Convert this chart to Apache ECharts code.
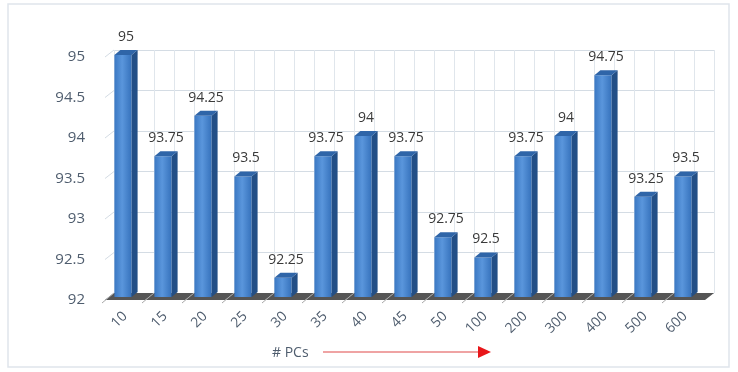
<!DOCTYPE html>
<html>
<head>
<meta charset="utf-8">
<script src="https://cdn.jsdelivr.net/npm/echarts@6/dist/echarts.min.js"></script>
<style>
  html, body { margin: 0; padding: 0; background: #fff; }
  #chart { width: 738px; height: 372px; }
</style>
</head>
<body>
<div id="chart"></div>
<script>
// ── Data ────────────────────────────────────────────────────────────────
const categories = ['10', '15', '20', '25', '30', '35', '40', '45', '50', '100', '200', '300', '400', '500', '600']
const accuracy = [95, 93.75, 94.25, 93.5, 92.25, 93.75, 94, 93.75, 92.75, 92.5, 93.75, 94, 94.75, 93.25, 93.5]
const yTicks = [92, 92.5, 93, 93.5, 94, 94.5, 95]
const axisTitle = '# PCs'

// ── 3D look ─────────────────────────────────────────────────────────────
const DEPTH_X = 6
const DEPTH_Y = -5
const WALL_X = 9
const WALL_Y = -7
const Y_MIN = 92

const chart = echarts.init(document.getElementById('chart'))

function renderBar(params, api) {
  const idx = api.value(0)
  const val = api.value(1)
  const top = api.coord([idx, val])
  const base = api.coord([idx, Y_MIN])
  const band = api.size([1, 0])[0]
  const w = band * 0.43
  const x0 = top[0] - (w + DEPTH_X) / 2 + 1
  const yTop = top[1] - 2
  const yBot = base[1] - 3
  const children = []

  // floor segment for this band
  const fl = base[0] - band / 2
  const fr = base[0] + band / 2
  children.push({
    type: 'polygon',
    shape: { points: [[fl, base[1]], [fr, base[1]], [fr + WALL_X, base[1] + WALL_Y], [fl + WALL_X, base[1] + WALL_Y]] },
    style: { fill: '#555' }
  })
  children.push({
    type: 'line',
    shape: { x1: fl - 3, y1: base[1] + 3, x2: fl + WALL_X, y2: base[1] + WALL_Y },
    style: { stroke: '#a8a8a8', lineWidth: 1 }
  })
  // front face
  children.push({
    type: 'rect',
    shape: { x: x0, y: yTop, width: w, height: yBot - yTop },
    style: {
      fill: new echarts.graphic.LinearGradient(0, 0, 1, 0, [
        { offset: 0, color: '#3b78c3' },
        { offset: 0.45, color: '#5a96dc' },
        { offset: 1, color: '#3672bc' }
      ])
    }
  })
  // side face
  children.push({
    type: 'polygon',
    shape: { points: [[x0 + w, yTop], [x0 + w + DEPTH_X, yTop + DEPTH_Y], [x0 + w + DEPTH_X, yBot + DEPTH_Y], [x0 + w, yBot]] },
    style: { fill: '#234f86' }
  })
  // top face
  children.push({
    type: 'polygon',
    shape: { points: [[x0, yTop], [x0 + w, yTop], [x0 + w + DEPTH_X, yTop + DEPTH_Y], [x0 + DEPTH_X, yTop + DEPTH_Y]] },
    style: { fill: '#2f65a8' }
  })
  // value label
  children.push({
    type: 'text',
    style: {
      text: String(val),
      x: x0 + (w + DEPTH_X) / 2,
      y: yTop + DEPTH_Y - 6,
      align: 'center',
      verticalAlign: 'bottom',
      fill: '#3a3a3a',
      font: '14px "Open Sans", sans-serif'
    }
  })
  return { type: 'group', children }
}

function renderWallEdge(params, api) {
  const p = api.coord([0, api.value(0)])
  const band = api.size([1, 0])[0]
  const x = p[0] - band / 2
  return {
    type: 'line',
    shape: { x1: x, y1: p[1], x2: x + WALL_X, y2: p[1] + WALL_Y },
    style: { stroke: '#d4dce4', lineWidth: 1 }
  }
}

const option = {
  backgroundColor: '#fff',
  animation: false,
  grid: [
    { left: 105, right: 33, top: 57, bottom: 72 },
    { left: 105 + WALL_X, right: 33 - WALL_X, top: 57 + WALL_Y, bottom: 72 - WALL_Y }
  ],
  xAxis: [
    {
      type: 'category',
      gridIndex: 0,
      data: categories,
      axisLine: { show: false },
      axisTick: { show: false },
      axisLabel: {
        rotate: 45,
        margin: 14,
        color: '#4f5d6e',
        fontSize: 14,
        fontFamily: 'Open Sans'
      },
      splitLine: { show: false }
    },
    {
      type: 'value',
      gridIndex: 1,
      min: 0,
      max: categories.length * 2,
      interval: 1,
      axisLine: { show: false },
      axisTick: { show: false },
      axisLabel: { show: false },
      splitLine: { show: true, lineStyle: { color: '#e0e6ec' } }
    }
  ],
  yAxis: [
    {
      type: 'value',
      gridIndex: 0,
      min: 92,
      max: 95,
      interval: 0.5,
      axisLine: { show: false },
      axisTick: { show: false },
      axisLabel: { margin: 20, color: '#4f5d6e', fontSize: 15, fontFamily: 'Open Sans' },
      splitLine: { show: false }
    },
    {
      type: 'value',
      gridIndex: 1,
      min: 92,
      max: 95,
      interval: 0.5,
      axisLine: { show: false },
      axisTick: { show: false },
      axisLabel: { show: false },
      splitLine: { show: true, lineStyle: { color: '#d4dce4' } }
    }
  ],
  graphic: [
    {
      type: 'rect',
      shape: { x: 8, y: 4, width: 721, height: 363 },
      style: { fill: 'none', stroke: '#dfe5ec', lineWidth: 1.5 },
      silent: true
    },
    {
      type: 'text',
      style: { text: axisTitle, x: 272, y: 353, verticalAlign: 'middle', fill: '#4f5d6e', font: '14px "Open Sans", sans-serif' }
    },
    {
      type: 'line',
      shape: { x1: 323, y1: 352, x2: 480, y2: 352 },
      style: { stroke: '#e04848', lineWidth: 1.2 }
    },
    {
      type: 'polygon',
      shape: { points: [[478, 346], [491, 352], [478, 358]] },
      style: { fill: '#e8161a' }
    }
  ],
  series: [
    {
      type: 'custom',
      xAxisIndex: 0,
      yAxisIndex: 0,
      data: yTicks.map(v => [v]),
      encode: { y: 0 },
      renderItem: renderWallEdge,
      z: 1
    },
    {
      type: 'custom',
      xAxisIndex: 0,
      yAxisIndex: 0,
      data: accuracy.map((v, i) => [i, v]),
      encode: { x: 0, y: 1 },
      renderItem: renderBar,
      z: 2
    }
  ]
}

chart.setOption(option)
</script>
</body>
</html>
